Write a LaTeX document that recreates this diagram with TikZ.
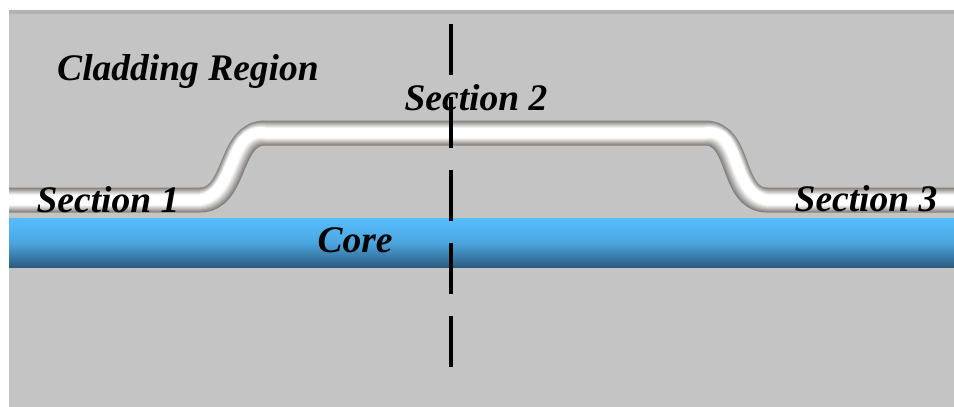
\documentclass[tikz,border=0pt]{standalone}
\usepackage{fontspec}
\setmainfont{Liberation Serif}
\usepackage{tikz}
\usetikzlibrary{positioning,calc}
\definecolor{CladGray}{RGB}{196,196,196}
\definecolor{RimGray}{RGB}{178,180,178}
\definecolor{TubeDark}{RGB}{132,128,124}
\definecolor{CoreLight}{RGB}{86,190,255}
\definecolor{CoreDark}{RGB}{44,92,128}
\tikzset{
  lbl/.style={anchor=base,inner sep=0pt,font=\fontsize{37.5}{40}\selectfont\bfseries\itshape},
  cut/.style={draw=black,line width=3.6pt,dash pattern=on 51pt off 22pt},
}
\newcommand\tubepath{(s1a) -- (s1b) .. controls (237,200) and (228,133) .. (s2a) -- (s2b) .. controls (742,133) and (730,200) .. (s3a) -- (s3b)}

\begin{document}
\begin{tikzpicture}[x=1pt,y=-1pt]
\useasboundingbox (0,0) rectangle (954,407);
% cladding background
\fill[CladGray] (9,10) rectangle (954,407);
\fill[RimGray] (9,10) rectangle (954,14);
% core
\shade[top color=CoreLight,bottom color=CoreDark,middle color=CoreLight!75!CoreDark] (9,218) rectangle (954,267);
% bent tube
\coordinate (s1a) at (9,200);
\coordinate (s1b) at (200,200);
\coordinate (s2a) at (265,133);
\coordinate (s2b) at (705,133);
\coordinate (s3a) at (767,200);
\coordinate (s3b) at (954,200);
\foreach \i in {0,...,10}{
  \pgfmathsetmacro\lw{25-2*\i}
  \pgfmathsetmacro\pct{min(100,14*\i)}
  \draw[line width=\lw pt,color=white!\pct!TubeDark,yshift=0.9*\i pt] \tubepath;
}
% cut plane
\coordinate (ctop) at (451,24);
\coordinate (cbot) at (451,370);
\draw[cut] (ctop) -- (cbot);
% labels
\node[lbl] (clad) at (188,80) {Cladding Region};
\node[lbl] (sec1) at (108,212) {Section 1};
\node[lbl] (sec2) at (476,110) {Section 2};
\node[lbl] (sec3) at (866,211) {Section 3};
\node[lbl] (core) at (355,252) {Core};
\end{tikzpicture}
\end{document}
